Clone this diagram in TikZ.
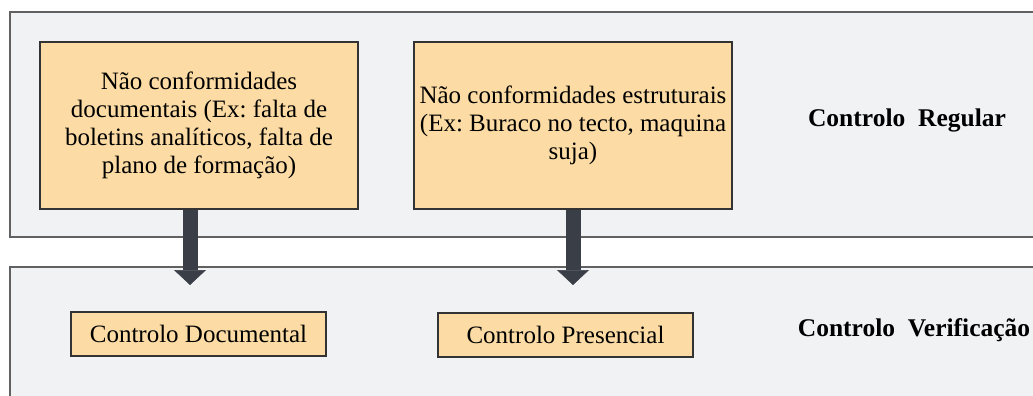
\documentclass[tikz,border=0pt]{standalone}
\usepackage{fontspec}
\setmainfont{Liberation Serif}
\usetikzlibrary{arrows.meta}
\frenchspacing

\definecolor{panelgray}{HTML}{F1F2F4}
\definecolor{peach}{HTML}{FCDCA4}
\definecolor{slate}{HTML}{3A3F47}

\tikzset{
  panel/.style={draw=black!62, line width=1.2pt, fill=panelgray},
  nbox/.style={draw=black!80, line width=1.2pt, fill=peach, align=center,
    font=\fontsize{25}{28}\selectfont},
  lbl/.style={font=\fontsize{25.5}{28}\selectfont\bfseries},
  pil/.style={draw=slate, line width=15pt,
    -{Triangle[width=32pt,length=15pt,line width=0.5pt]}}
}

\begin{document}
\begin{tikzpicture}[x=1pt,y=-1pt]
\useasboundingbox (0,0) rectangle (1033,396);
\clip (0,0) rectangle (1033,396);
% the two bands
\draw [panel] (10,12) rectangle (1045,237);
\draw [panel] (10,267) rectangle (1045,410);
% upper boxes
\node [nbox, minimum width=318pt, minimum height=167pt] (ncdoc) at (199,125.5)
  {N\~ao conformidades\\documentais (Ex: falta de\\boletins anal\'iticos, falta de\\plano de forma\c{c}\~ao)};
\node [nbox, minimum width=318pt, minimum height=167pt] (ncest) at (573,125.5)
  {N\~ao conformidades estruturais\\(Ex: Buraco no tecto, maquina\\suja)};
% lower boxes
\node [nbox, minimum width=255pt, minimum height=44pt] (ctdoc) at (198.5,334) {Controlo Documental};
\node [nbox, minimum width=255pt, minimum height=44pt] (ctpres) at (565.5,335) {Controlo Presencial};
% band labels
\node [lbl] (reg) at (907,120) {Controlo~~Regular};
\node [lbl] (ver) at (914,330) {Controlo~~Verifica\c{c}\~ao};
% arrows
\coordinate (tipdoc) at (190,285);
\coordinate (tipest) at (573,285);
\draw [pil] (tipdoc |- ncdoc.south) -- (tipdoc);
\draw [pil] (ncest.south) -- (tipest);
\end{tikzpicture}
\end{document}
